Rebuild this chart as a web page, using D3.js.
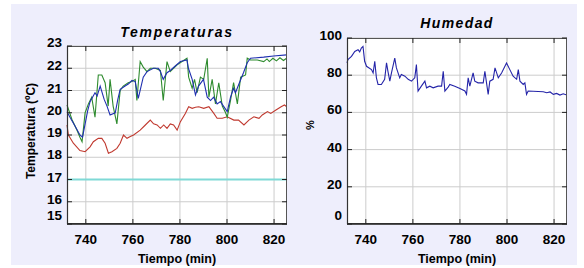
<!DOCTYPE html>
<html>
<head>
<meta charset="utf-8">
<script src="https://cdn.jsdelivr.net/npm/d3@7"></script>
<style>
  body { margin:0; background:#fff; }
  svg text { font-family: "Liberation Sans", Arial, sans-serif; }
</style>
</head>
<body>
<div id="canvas" class="canvas" style="width:584px;height:268px;"></div>
<script>
// --- data: [time (min), value]
var tempBlue = [[732,20.05],[733.5,19.75],[735.4,19.4],[737.5,19.0],[738.6,18.9],[739.7,19.5],[740.8,20.1],[741.8,20.5],[743.9,20.9],
  [744.8,20.75],[746.1,21.2],[747.8,20.6],[749,20.3],[750.3,19.9],[752.5,20.0],[753.6,20.6],[754.6,21.05],[756.7,21.2],[758.2,21.3],[759.6,21.45],[761,21.4],
  [762.3,20.65],[764.4,21.6],[766,21.85],[768.7,22.0],[770.8,22.0],[771.7,21.85],[772.9,21.5],[774.5,21.8],
  [775.9,21.9],[778,22.1],[780.2,22.3],[783,22.37],[783.6,22.0],[785.2,21.5],[786.6,20.8],[787.9,21.2],[790,21.5],
  [791.6,20.7],[793,20.55],[794.3,20.7],[795.8,20.4],[797.2,20.5],[798.5,20.3],[800.1,20.05],[801.5,20.7],
  [802.8,21.1],[803.6,20.9],[804.9,21.25],[807,21.8],[808.6,22.25],[810,22.45],[815.6,22.5],[819.8,22.55],[825.3,22.6]];

var tempGreen = [[732,20.35],[734.1,19.7],[736.3,19.2],[737.5,18.9],[738.4,18.7],[739.7,20.0],[741.1,20.4],
  [742.5,20.7],[743.9,19.8],[745.3,21.7],[746.8,21.7],[748.2,21.35],[749.5,20.3],[750.3,21.5],[751.6,20.3],
  [753.2,19.5],[754.6,21.0],[755.9,21.2],[758,21.35],[759.6,21.4],[761,21.5],[761.7,20.55],[763.1,22.3],
  [764.4,22.05],[766,21.85],[767.4,22.0],[769.5,22.0],[771.7,21.9],[772.9,20.55],[774.5,22.3],[775.9,21.85],
  [778.8,22.15],[780.9,22.3],[783,22.45],[783.7,21.6],[785.2,21.1],[786.2,21.5],[787.3,20.9],[788.7,21.6],
  [790.1,21.5],[791.6,22.45],[792.3,20.7],[793.7,21.5],[795.1,20.4],[796.5,21.35],[798,20.3],[799.4,20.0],
  [800.1,19.8],[801.5,20.55],[802.8,21.35],[804.4,20.4],[805.8,21.6],[807.9,21.7],[808.6,22.45],[810,22.37],
  [812.9,22.37],[815.6,22.3],[817,22.42],[818,22.3],[819.5,22.45],[821,22.33],[822.5,22.47],[824,22.35],[825.3,22.45]];

var tempRed = [[732,19.45],[732.6,19.0],[734.7,18.63],[737.5,18.3],[739.7,18.25],[741.8,18.47],[743.2,18.7],
  [745.3,18.85],[746.8,18.85],[748.2,18.63],[749.6,18.18],[751.1,18.25],[753.2,18.4],[754.6,18.63],[756,19.0],
  [757.5,18.85],[758.9,18.93],[760.3,19.0],[763.1,19.22],[765.3,19.45],[767.4,19.67],[768.8,19.5],[770.3,19.45],
  [771.7,19.3],[773.1,19.45],[774.5,19.3],[775.9,19.5],[777.3,19.45],[778.8,19.22],[780.2,19.6],[782.3,19.97],
  [783.7,20.27],[785.2,20.2],[786.6,20.25],[788,20.27],[790.1,20.2],[792.3,20.27],[794.4,19.97],[795.8,19.75],
  [798,19.75],[800.1,19.82],[802.9,19.67],[804.9,19.67],[807.2,19.45],[809.3,19.67],[811.4,19.82],[813.6,19.75],
  [815,19.9],[817.2,20.05],[818.6,19.97],[820.8,20.12],[823,20.27],[824.4,20.35],[825.4,20.27]];

var tempCyan = [[732,17],[825.5,17]];

var humidity = [[732,86.6],[732.4,88.4],[733.9,90.1],[735.3,92.8],[736.7,93.7],[737.4,92.5],[738.1,94.6],
  [738.8,95.5],[739.5,87.5],[740.3,84.8],[742.4,83],[743.1,81.2],[743.8,87.5],[744.5,78.6],[745.2,75],
  [746.6,75],[748,77.8],[748.8,86.6],[749.4,82.1],[750.2,76.8],[750.9,81.2],[752.3,89.2],[753,83.9],
  [754.4,78.6],[755.1,80.4],[756.6,79.5],[758,77.8],[759.4,76.8],[760.8,78.6],[761.5,85.7],[762.2,71.5],
  [763.6,74.1],[765.1,76.8],[765.8,73.2],[767.2,74.1],[768.6,73.2],[770.7,74.1],[772.2,74.1],[772.9,82.1],
  [773.6,71.5],[775,73.6],[775.7,75],[777.8,74.1],[780,72.9],[782.1,71.5],[782.8,69.7],[783.5,78.6],
  [784.2,74.1],[785.6,81.2],[786.3,76.8],[787.7,75.9],[789.9,75.9],[790.6,82.1],[791.3,75.9],[792,69.7],
  [792.7,76.8],[794.1,77.8],[794.9,83.9],[796.3,78.6],[797.7,81.2],[799.8,86.6],[801.2,83],[802.6,79.5],
  [804.1,77.8],[804.8,83],[805.5,76.8],[806.9,75],[807.6,75.9],[808.3,69.7],[809,71.5],[815.4,71.1],
  [816.9,70.6],[818.3,71],[819.7,69.7],[821.1,70.2],[822.5,69.3],[823.9,70],[825.4,69.3]];

var timeTicks = [740, 760, 780, 800, 820];
var tempTicks = [15, 16, 17, 18, 19, 20, 21, 22, 23];
var humTicks = [0, 20, 40, 60, 80, 100];

// --- svg
var svg = d3.select('.canvas')
  .append('svg')
  .attr('width', 584)
  .attr('height', 268);

svg.append('rect')
  .attr('x', 11).attr('y', 4)
  .attr('width', 566).attr('height', 261)
  .style('fill', '#eeeefc');

function panel(opt) {
  var x = d3.scaleLinear().domain([732, 825.5]).range([opt.left, opt.left + 220]);
  var y = d3.scaleLinear().domain(opt.domain).range([224, opt.top]);
  var g = svg.append('g');

  g.append('rect')
    .attr('x', x.range()[0]).attr('y', opt.top)
    .attr('width', 220).attr('height', 224 - opt.top)
    .style('fill', '#fff');

  // grid
  g.selectAll('.gx').data(timeTicks).enter().append('line')
    .attr('x1', function(d){ return x(d); }).attr('x2', function(d){ return x(d); })
    .attr('y1', opt.top).attr('y2', 224)
    .style('stroke', '#cccccc');
  g.selectAll('.gy').data(opt.ticks).enter().append('line')
    .attr('x1', x.range()[0]).attr('x2', x.range()[1])
    .attr('y1', function(d){ return y(d); }).attr('y2', function(d){ return y(d); })
    .style('stroke', '#cccccc');

  // lines
  var line = d3.line().x(function(d){ return x(d[0]); }).y(function(d){ return y(d[1]); });
  opt.series.forEach(function(s) {
    g.append('path')
      .datum(s.data)
      .attr('d', line)
      .style('fill', 'none')
      .style('stroke', s.color)
      .style('stroke-width', s.width || 1.1);
  });

  // frame + inward ticks
  g.append('rect')
    .attr('x', x.range()[0] + 0.5).attr('y', opt.top + 0.5)
    .attr('width', 219).attr('height', 224 - opt.top - 1)
    .style('fill', 'none').style('stroke', '#555');
  g.append('line')
    .attr('x1', x.range()[0]).attr('x2', x.range()[1])
    .attr('y1', 224).attr('y2', 224)
    .style('stroke', '#222').style('stroke-width', 1.6);
  g.append('line')
    .attr('x1', x.range()[0] + 0.5).attr('x2', x.range()[0] + 0.5)
    .attr('y1', opt.top).attr('y2', 224)
    .style('stroke', '#333').style('stroke-width', 1.2);

  timeTicks.forEach(function(d) {
    g.append('line').attr('x1', x(d)).attr('x2', x(d)).attr('y1', 224).attr('y2', 219).style('stroke', '#222');
    g.append('line').attr('x1', x(d)).attr('x2', x(d)).attr('y1', opt.top).attr('y2', opt.top + 5).style('stroke', '#222');
    g.append('text')
      .attr('x', x(d)).attr('y', 244)
      .attr('text-anchor', 'middle')
      .style('font-size', '13.5px').style('font-weight', 'bold')
      .text(d);
  });
  opt.ticks.forEach(function(d, i) {
    g.append('line').attr('x1', x.range()[0]).attr('x2', x.range()[0] + 5).attr('y1', y(d)).attr('y2', y(d)).style('stroke', '#222');
    g.append('line').attr('x1', x.range()[1]).attr('x2', x.range()[1] - 5).attr('y1', y(d)).attr('y2', y(d)).style('stroke', '#222');
    var shift = -3;
    if (i == 0) shift = -9;
    if (d == 23) shift = -4;
    g.append('text')
      .attr('x', x.range()[0] - 5).attr('y', y(d) + shift + 5)
      .attr('text-anchor', 'end')
      .style('font-size', '13.5px').style('font-weight', 'bold')
      .text(d);
  });

  // titles
  var cx = x.range()[0] + 110;
  g.append('text')
    .attr('x', cx).attr('y', opt.titleY)
    .attr('text-anchor', 'middle')
    .style('font-size', '14px').style('font-weight', 'bold').style('font-style', 'italic')
    .style('letter-spacing', opt.titleSpacing)
    .text(opt.title);
  g.append('text')
    .attr('x', cx).attr('y', 263)
    .attr('text-anchor', 'middle')
    .style('font-size', '12.5px').style('font-weight', 'bold')
    .text('Tiempo (min)');
  g.append('text')
    .attr('transform', 'translate(' + opt.ylabX + ',' + opt.ylabY + ') rotate(-90)')
    .attr('text-anchor', 'middle')
    .style('font-size', opt.ylabSize).style('font-weight', 'bold')
    .text(opt.ylab);
}

panel({
  left: 67, top: 46, domain: [15, 23], ticks: tempTicks,
  title: 'Temperaturas', titleY: 37, titleSpacing: '1.8px',
  ylab: 'Temperatura (ºC)', ylabX: 35, ylabY: 131, ylabSize: '12px',
  series: [
    {data: tempCyan, color: '#7fd9d6', width: 2},
    {data: tempRed, color: '#c0392f'},
    {data: tempGreen, color: '#2e8b2e'},
    {data: tempBlue, color: '#1f2fb0'}
  ]
});

panel({
  left: 347, top: 38, domain: [0, 100], ticks: humTicks,
  title: 'Humedad', titleY: 28, titleSpacing: '1.4px',
  ylab: '%', ylabX: 314, ylabY: 125, ylabSize: '11px',
  series: [
    {data: humidity, color: '#2424a8'}
  ]
});
</script>
</body>
</html>
